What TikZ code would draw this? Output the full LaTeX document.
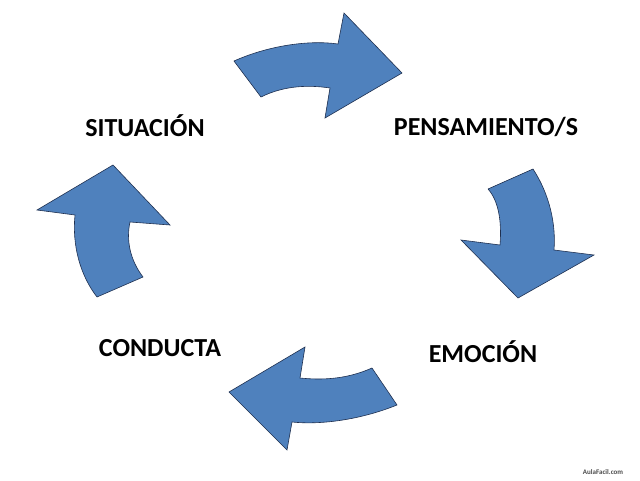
\documentclass[tikz,border=0pt]{standalone}
\usepackage{fontspec}
\setmainfont{Carlito}
\definecolor{arrfill}{HTML}{4F81BD}
\definecolor{arrline}{HTML}{1F3050}
\begin{document}
\begin{tikzpicture}[x=1pt,y=-1pt,
  arr/.style={fill=arrfill,draw=arrline,line width=0.6pt,line join=miter},
  lbl/.style={font=\bfseries\fontsize{26}{28}\selectfont,text=black,inner sep=0pt}]
\useasboundingbox[fill=white] (0,0) rectangle (640,480);
% top arrow
\draw[arr] (234,61) .. controls (270,45) and (310,40) .. (338,44) -- (344,13) -- (402,73) -- (325,118) -- (330,88) .. controls (310,85) and (285,85) .. (261,97) -- cycle;
% right arrow
\draw[arr] (488,189) -- (533,169) .. controls (550,195) and (556,225) .. (554,250) -- (594,255) -- (518,298) -- (461,240) -- (500,245) .. controls (502,220) and (498,200) .. (488,189);
% bottom arrow
\draw[arr] (372,368) -- (397,405) .. controls (360,420) and (320,425) .. (292,422) -- (287,450) -- (229,392) -- (305,347) -- (300,378) .. controls (320,380) and (345,380) .. (372,368);
% left arrow
\draw[arr] (97,297) -- (143,277) .. controls (130,260) and (126,240) .. (130,222) -- (170,225) -- (113,165) -- (37,210) -- (75,215) .. controls (72,245) and (80,275) .. (97,297);
\node[lbl] (sit) at (145,126) {SITUACIÓN};
\node[lbl] (pen) at (486,127) {PENSAMIENTO/S};
\node[lbl] (con) at (160,348) {CONDUCTA};
\node[lbl] (emo) at (483,352) {EMOCIÓN};
\node[font=\bfseries\fontsize{7}{8}\selectfont,text=black!70,inner sep=0pt] (wm) at (603,472) {AulaFacil.com};
\end{tikzpicture}
\end{document}
